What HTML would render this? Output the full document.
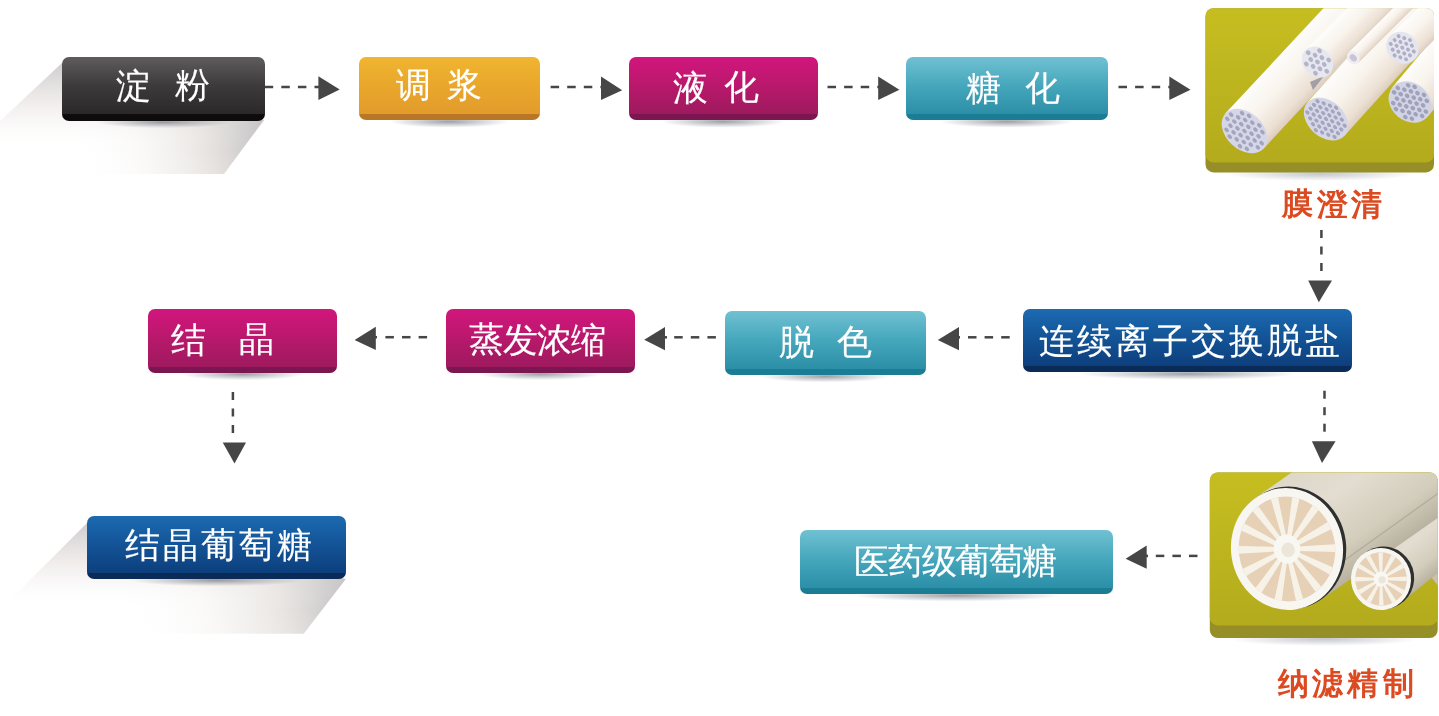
<!DOCTYPE html>
<html><head><meta charset="utf-8">
<style>
html,body{margin:0;padding:0;background:#fff;width:1439px;height:716px;overflow:hidden;position:relative}
.b{position:absolute;border-radius:7px}
.t{position:absolute;will-change:transform;color:#fff;font-family:"Liberation Sans",sans-serif;line-height:1;white-space:nowrap;-webkit-text-stroke:0.15px #fff}
.lbl{position:absolute;will-change:transform;color:#db4a20;font-family:"Liberation Serif",serif;font-weight:bold;line-height:1;white-space:nowrap}
svg{position:absolute;left:0;top:0}
</style></head><body>
<svg width="1439" height="716" viewBox="0 0 1439 716">
<defs>
<linearGradient id="shH1" gradientUnits="userSpaceOnUse" x1="262" y1="125" x2="80" y2="176">
<stop offset="0" stop-color="#b3b2b6" stop-opacity=".9"/>
<stop offset=".3" stop-color="#d6cfcb" stop-opacity=".6"/>
<stop offset=".65" stop-color="#ebe6e3" stop-opacity=".25"/>
<stop offset="1" stop-color="#fff" stop-opacity="0"/>
</linearGradient>
<linearGradient id="shV1" gradientUnits="userSpaceOnUse" x1="0" y1="64" x2="0" y2="150">
<stop offset="0" stop-color="#c2c1c4" stop-opacity=".8"/>
<stop offset=".45" stop-color="#ddd6d2" stop-opacity=".45"/>
<stop offset="1" stop-color="#fff" stop-opacity="0"/>
</linearGradient>
<linearGradient id="shH2" gradientUnits="userSpaceOnUse" x1="344" y1="583" x2="130" y2="640">
<stop offset="0" stop-color="#b3b2b6" stop-opacity=".9"/>
<stop offset=".3" stop-color="#d6cfcb" stop-opacity=".55"/>
<stop offset=".65" stop-color="#ebe6e3" stop-opacity=".22"/>
<stop offset="1" stop-color="#fff" stop-opacity="0"/>
</linearGradient>
<linearGradient id="shV2" gradientUnits="userSpaceOnUse" x1="0" y1="524" x2="0" y2="610">
<stop offset="0" stop-color="#c2c1c4" stop-opacity=".8"/>
<stop offset=".45" stop-color="#ddd6d2" stop-opacity=".45"/>
<stop offset="1" stop-color="#fff" stop-opacity="0"/>
</linearGradient>
<radialGradient id="ush" cx=".5" cy=".5" r=".5">
<stop offset="0" stop-color="#50525c" stop-opacity=".55"/>
<stop offset="1" stop-color="#5a6070" stop-opacity="0"/>
</radialGradient>
</defs>
<polygon points="62,63 264,120 224,174 0,174 0,121" fill="url(#shH1)"/><polygon points="62,63 264,120 224,174 0,174 0,121" fill="url(#shV1)"/>
<polygon points="87,523 345.8,579 303.7,633.7 0,633.7 0,610" fill="url(#shH2)"/><polygon points="87,523 345.8,579 303.7,633.7 0,633.7 0,610" fill="url(#shV2)"/>
<ellipse cx="163.3" cy="122.2" rx="67" ry="6" fill="url(#ush)"/><ellipse cx="449.2" cy="121.7" rx="60" ry="6" fill="url(#ush)"/><ellipse cx="723.1" cy="121.7" rx="62" ry="6" fill="url(#ush)"/><ellipse cx="1006.7" cy="121.7" rx="67" ry="6" fill="url(#ush)"/><ellipse cx="1187.7" cy="373.9" rx="109" ry="6" fill="url(#ush)"/><ellipse cx="825.2" cy="376.4" rx="66" ry="6" fill="url(#ush)"/><ellipse cx="540.4" cy="374.1" rx="62" ry="6" fill="url(#ush)"/><ellipse cx="242.7" cy="374.2" rx="62" ry="6" fill="url(#ush)"/><ellipse cx="216.2" cy="580.3" rx="86" ry="6" fill="url(#ush)"/><ellipse cx="956.6" cy="595.5" rx="104" ry="6" fill="url(#ush)"/>
<rect x="264.7" y="85.75" width="8.5" height="2.5" fill="#464646"/><rect x="281.3" y="85.75" width="8.5" height="2.5" fill="#464646"/><rect x="297.9" y="85.75" width="8.5" height="2.5" fill="#464646"/><rect x="314.5" y="85.75" width="4.9" height="2.5" fill="#464646"/><polygon points="318.4,76.3 339.7,89.5 318.4,100.0" fill="#464646"/><rect x="550.6" y="85.75" width="8.5" height="2.5" fill="#464646"/><rect x="567.2" y="85.75" width="8.5" height="2.5" fill="#464646"/><rect x="583.8" y="85.75" width="8.5" height="2.5" fill="#464646"/><rect x="600.4" y="85.75" width="1.6" height="2.5" fill="#464646"/><polygon points="601.0,76.6 622.2,90.2 601.0,99.9" fill="#464646"/><rect x="827.5" y="85.75" width="8.5" height="2.5" fill="#464646"/><rect x="844.1" y="85.75" width="8.5" height="2.5" fill="#464646"/><rect x="860.7" y="85.75" width="8.5" height="2.5" fill="#464646"/><rect x="877.3" y="85.75" width="1.9" height="2.5" fill="#464646"/><polygon points="878.2,76.6 899.4,89.8 878.2,99.9" fill="#464646"/><rect x="1118.5" y="85.75" width="8.5" height="2.5" fill="#464646"/><rect x="1135.1" y="85.75" width="8.5" height="2.5" fill="#464646"/><rect x="1151.7" y="85.75" width="8.5" height="2.5" fill="#464646"/><rect x="1168.3" y="85.75" width="2.0" height="2.5" fill="#464646"/><polygon points="1169.3,76.6 1190.5,89.8 1169.3,99.9" fill="#464646"/><rect x="1320.15" y="230.0" width="2.5" height="8.0" fill="#464646"/><rect x="1320.15" y="246.5" width="2.5" height="8.0" fill="#464646"/><rect x="1320.15" y="263.0" width="2.5" height="8.0" fill="#464646"/><polygon points="1308.2,280.6 1318.8,302.3 1332.0,280.6" fill="#464646"/><rect x="1323.25" y="390.7" width="2.5" height="8.0" fill="#464646"/><rect x="1323.25" y="407.2" width="2.5" height="8.0" fill="#464646"/><rect x="1323.25" y="423.7" width="2.5" height="8.0" fill="#464646"/><polygon points="1311.9,441.2 1322.0,462.9 1335.6,441.2" fill="#464646"/><rect x="968.0" y="336.05" width="8.5" height="2.5" fill="#464646"/><rect x="984.6" y="336.05" width="8.5" height="2.5" fill="#464646"/><rect x="1001.2" y="336.05" width="8.5" height="2.5" fill="#464646"/><polygon points="959.0,326.9 937.8,340.0 959.0,350.3" fill="#464646"/><rect x="957.0" y="336.05" width="3.0" height="2.5" fill="#464646"/><rect x="674.2" y="336.05" width="8.5" height="2.5" fill="#464646"/><rect x="690.8" y="336.05" width="8.5" height="2.5" fill="#464646"/><rect x="707.4" y="336.05" width="8.5" height="2.5" fill="#464646"/><polygon points="665.0,326.9 644.2,339.7 665.0,350.3" fill="#464646"/><rect x="663.0" y="336.05" width="4.0" height="2.5" fill="#464646"/><rect x="385.4" y="335.95" width="8.5" height="2.5" fill="#464646"/><rect x="402.0" y="335.95" width="8.5" height="2.5" fill="#464646"/><rect x="418.6" y="335.95" width="8.5" height="2.5" fill="#464646"/><polygon points="375.8,326.8 354.6,340.0 375.8,350.0" fill="#464646"/><rect x="374.0" y="335.95" width="3.0" height="2.5" fill="#464646"/><rect x="231.65" y="392.0" width="2.5" height="8.0" fill="#464646"/><rect x="231.65" y="408.5" width="2.5" height="8.0" fill="#464646"/><rect x="231.65" y="425.0" width="2.5" height="8.0" fill="#464646"/><polygon points="222.7,442.6 234.5,463.6 246.0,442.6" fill="#464646"/><rect x="1155.8" y="554.65" width="8.5" height="2.5" fill="#464646"/><rect x="1172.4" y="554.65" width="8.5" height="2.5" fill="#464646"/><rect x="1189.0" y="554.65" width="8.5" height="2.5" fill="#464646"/><polygon points="1146.7,545.4 1125.6,558.7 1146.7,568.7" fill="#464646"/><rect x="1145.0" y="554.65" width="3.0" height="2.5" fill="#464646"/>
</svg>
<div class="b" style="left:62px;top:57.2px;width:202.6px;height:63.5px;background:linear-gradient(#5e5c5d 0%,#3d3a3b 45%,#2b2829 89.1%,#0e0b0c 89.9%,#0e0b0c 100%)"></div>
<div class="b" style="left:359px;top:57px;width:180.5px;height:63.2px;background:linear-gradient(#f0b531 0%,#e9a72b 45%,#e39b2b 89.7%,#b97725 90.5%,#b97725 100%)"></div>
<div class="b" style="left:628.5px;top:57px;width:189.3px;height:63.2px;background:linear-gradient(#d2167d 0%,#b9186c 45%,#9e1a5e 90.0%,#7b1650 90.8%,#7b1650 100%)"></div>
<div class="b" style="left:905.8px;top:57px;width:201.8px;height:63.2px;background:linear-gradient(#70c1d2 0%,#46a7bc 45%,#2b8fa7 90.3%,#1b7d94 91.1%,#1b7d94 100%)"></div>
<div class="b" style="left:1023.3px;top:308.6px;width:328.8px;height:63.8px;background:linear-gradient(#1c6ab1 0%,#135497 45%,#0d3f7d 90.0%,#0a2a58 90.8%,#0a2a58 100%)"></div>
<div class="b" style="left:724.5px;top:311.1px;width:201.5px;height:63.8px;background:linear-gradient(#70c1d2 0%,#46a7bc 45%,#2b8fa7 90.4%,#1b7d94 91.2%,#1b7d94 100%)"></div>
<div class="b" style="left:446px;top:309.1px;width:188.7px;height:63.5px;background:linear-gradient(#d2167d 0%,#b9186c 45%,#9e1a5e 90.2%,#7b1650 91.0%,#7b1650 100%)"></div>
<div class="b" style="left:148.2px;top:309.1px;width:188.9px;height:63.6px;background:linear-gradient(#d2167d 0%,#b9186c 45%,#9e1a5e 90.3%,#7b1650 91.1%,#7b1650 100%)"></div>
<div class="b" style="left:86.7px;top:515.7px;width:259.1px;height:63.1px;background:linear-gradient(#1c6ab1 0%,#135497 45%,#0d3f7d 89.7%,#0a2a58 90.5%,#0a2a58 100%)"></div>
<div class="b" style="left:799.7px;top:529.8px;width:313.7px;height:64.2px;background:linear-gradient(#70c1d2 0%,#46a7bc 45%,#2b8fa7 90.7%,#1b7d94 91.5%,#1b7d94 100%)"></div>
<span class="t" style="left:116.3px;top:67.6px;font-size:35px">淀</span>
<span class="t" style="left:174.7px;top:66.8px;font-size:35px">粉</span>
<span class="t" style="left:396.4px;top:67.1px;font-size:35px">调</span>
<span class="t" style="left:447.0px;top:66.9px;font-size:35px">浆</span>
<span class="t" style="left:672.8px;top:69.8px;font-size:35px">液</span>
<span class="t" style="left:723.5px;top:69.1px;font-size:35px">化</span>
<span class="t" style="left:965.8px;top:70.2px;font-size:35px">糖</span>
<span class="t" style="left:1025.0px;top:69.9px;font-size:35px">化</span>
<span class="t" style="left:778.6px;top:323.6px;font-size:35px">脱</span>
<span class="t" style="left:837.4px;top:324.1px;font-size:35px">色</span>
<span class="t" style="left:171.1px;top:321.6px;font-size:35px">结</span>
<span class="t" style="left:238.6px;top:321.0px;font-size:35px">晶</span>
<span class="t" style="left:1038.7px;top:322.5px;font-size:35px">连</span>
<span class="t" style="left:1076.8px;top:322.5px;font-size:35px">续</span>
<span class="t" style="left:1114.8px;top:322.5px;font-size:35px">离</span>
<span class="t" style="left:1152.8px;top:322.5px;font-size:35px">子</span>
<span class="t" style="left:1190.8px;top:322.5px;font-size:35px">交</span>
<span class="t" style="left:1228.8px;top:322.5px;font-size:35px">换</span>
<span class="t" style="left:1266.5px;top:322.0px;font-size:35px">脱</span>
<span class="t" style="left:1304.8px;top:322.9px;font-size:35px">盐</span>
<span class="t" style="left:468.7px;top:321.4px;font-size:35px">蒸</span>
<span class="t" style="left:502.6px;top:321.8px;font-size:35px">发</span>
<span class="t" style="left:536.6px;top:321.8px;font-size:35px">浓</span>
<span class="t" style="left:571.0px;top:321.9px;font-size:35px">缩</span>
<span class="t" style="left:125.0px;top:527.4px;font-size:35px">结</span>
<span class="t" style="left:163.0px;top:526.9px;font-size:35px">晶</span>
<span class="t" style="left:200.9px;top:527.4px;font-size:35px">葡</span>
<span class="t" style="left:238.9px;top:527.4px;font-size:35px">萄</span>
<span class="t" style="left:277.0px;top:527.4px;font-size:35px">糖</span>
<span class="t" style="left:854.1px;top:543.6px;font-size:35px">医</span>
<span class="t" style="left:888.2px;top:543.1px;font-size:35px">药</span>
<span class="t" style="left:921.6px;top:543.1px;font-size:35px">级</span>
<span class="t" style="left:955.1px;top:543.1px;font-size:35px">葡</span>
<span class="t" style="left:988.5px;top:543.1px;font-size:35px">萄</span>
<span class="t" style="left:1022.0px;top:543.1px;font-size:35px">糖</span>
<span class="lbl" style="left:1282.2px;top:188.3px;font-size:31px">膜</span>
<span class="lbl" style="left:1316.5px;top:188.6px;font-size:31px">澄</span>
<span class="lbl" style="left:1350.9px;top:188.6px;font-size:31px">清</span>
<span class="lbl" style="left:1277.8px;top:667.9px;font-size:31px">纳</span>
<span class="lbl" style="left:1312.1px;top:668.4px;font-size:31px">滤</span>
<span class="lbl" style="left:1347.1px;top:668.4px;font-size:31px">精</span>
<span class="lbl" style="left:1382.8px;top:668.1px;font-size:31px">制</span>
<svg width="1439" height="716" viewBox="0 0 1439 716" style="position:absolute;left:0;top:0">
<defs>
<clipPath id="c1"><rect x="1205.5" y="8.2" width="228.5" height="164.2" rx="8"/></clipPath>
<clipPath id="c1t"><rect x="1205.5" y="8.2" width="228.5" height="154.2" rx="8"/></clipPath>
<linearGradient id="ol1" x1="0" y1="0" x2="0" y2="1"><stop offset="0" stop-color="#c6be20"/><stop offset="1" stop-color="#b4ab1d"/></linearGradient>
<linearGradient id="cb" x1="0" y1="0" x2="0" y2="1"><stop offset="0" stop-color="#fefdfb"/><stop offset=".45" stop-color="#f8f3ec"/><stop offset=".85" stop-color="#ebdfd2"/><stop offset="1" stop-color="#dccdbf"/></linearGradient>
<radialGradient id="ush2" cx=".5" cy=".5" r=".5"><stop offset="0" stop-color="#5a6070" stop-opacity=".35"/><stop offset="1" stop-color="#5a6070" stop-opacity="0"/></radialGradient>
<clipPath id="c2"><rect x="1209.8" y="472.4" width="227.9" height="165.6" rx="8"/></clipPath>
<clipPath id="c2t"><rect x="1209.8" y="472.4" width="227.9" height="153" rx="8"/></clipPath>
<linearGradient id="sb" x1="0" y1="0" x2="0" y2="1"><stop offset="0" stop-color="#ddd8ca"/><stop offset=".35" stop-color="#e2ddd0"/><stop offset=".75" stop-color="#d3cdbc"/><stop offset="1" stop-color="#b9b2a0"/></linearGradient>
</defs>
<ellipse cx="1320" cy="174" rx="95" ry="7" fill="url(#ush2)"/>
<ellipse cx="1324" cy="639" rx="95" ry="7" fill="url(#ush2)"/>
<g clip-path="url(#c1)">
<rect x="1205" y="8" width="230" height="165" fill="#968f27"/>
</g>
<g clip-path="url(#c1t)">
<rect x="1205" y="8" width="230" height="155" fill="url(#ol1)"/>

<g transform="translate(1244.5,131) rotate(-47)"><rect x="0" y="-26" width="300" height="52" fill="url(#cb)"/><ellipse cx="0" cy="0" rx="18.5" ry="26" fill="#d5d6e6"/><g fill="#a3a4bf"><ellipse cx="-2.8" cy="-20.9" rx="1.85" ry="2.6"/><ellipse cx="2.8" cy="-20.9" rx="1.85" ry="2.6"/><ellipse cx="-11.4" cy="-13.9" rx="1.85" ry="2.6"/><ellipse cx="-5.7" cy="-13.9" rx="1.85" ry="2.6"/><ellipse cx="0.0" cy="-13.9" rx="1.85" ry="2.6"/><ellipse cx="5.7" cy="-13.9" rx="1.85" ry="2.6"/><ellipse cx="11.4" cy="-13.9" rx="1.85" ry="2.6"/><ellipse cx="-14.2" cy="-7.0" rx="1.85" ry="2.6"/><ellipse cx="-8.5" cy="-7.0" rx="1.85" ry="2.6"/><ellipse cx="-2.8" cy="-7.0" rx="1.85" ry="2.6"/><ellipse cx="2.8" cy="-7.0" rx="1.85" ry="2.6"/><ellipse cx="8.5" cy="-7.0" rx="1.85" ry="2.6"/><ellipse cx="14.2" cy="-7.0" rx="1.85" ry="2.6"/><ellipse cx="-11.4" cy="0.0" rx="1.85" ry="2.6"/><ellipse cx="-5.7" cy="0.0" rx="1.85" ry="2.6"/><ellipse cx="0.0" cy="0.0" rx="1.85" ry="2.6"/><ellipse cx="5.7" cy="0.0" rx="1.85" ry="2.6"/><ellipse cx="11.4" cy="0.0" rx="1.85" ry="2.6"/><ellipse cx="-14.2" cy="7.0" rx="1.85" ry="2.6"/><ellipse cx="-8.5" cy="7.0" rx="1.85" ry="2.6"/><ellipse cx="-2.8" cy="7.0" rx="1.85" ry="2.6"/><ellipse cx="2.8" cy="7.0" rx="1.85" ry="2.6"/><ellipse cx="8.5" cy="7.0" rx="1.85" ry="2.6"/><ellipse cx="14.2" cy="7.0" rx="1.85" ry="2.6"/><ellipse cx="-11.4" cy="13.9" rx="1.85" ry="2.6"/><ellipse cx="-5.7" cy="13.9" rx="1.85" ry="2.6"/><ellipse cx="0.0" cy="13.9" rx="1.85" ry="2.6"/><ellipse cx="5.7" cy="13.9" rx="1.85" ry="2.6"/><ellipse cx="11.4" cy="13.9" rx="1.85" ry="2.6"/><ellipse cx="-2.8" cy="20.9" rx="1.85" ry="2.6"/><ellipse cx="2.8" cy="20.9" rx="1.85" ry="2.6"/></g></g>
<polygon points="1310,82 1324,76 1313,90" fill="#8c8a98" opacity=".75"/>
<g transform="translate(1326,119) rotate(-48)"><rect x="0" y="-25" width="300" height="50" fill="url(#cb)"/><ellipse cx="0" cy="0" rx="18" ry="25" fill="#d6d7e6"/><g fill="#a3a4bf"><ellipse cx="-7.6" cy="-18.3" rx="1.73" ry="2.4"/><ellipse cx="-2.5" cy="-18.3" rx="1.73" ry="2.4"/><ellipse cx="2.5" cy="-18.3" rx="1.73" ry="2.4"/><ellipse cx="7.6" cy="-18.3" rx="1.73" ry="2.4"/><ellipse cx="-10.1" cy="-12.2" rx="1.73" ry="2.4"/><ellipse cx="-5.0" cy="-12.2" rx="1.73" ry="2.4"/><ellipse cx="0.0" cy="-12.2" rx="1.73" ry="2.4"/><ellipse cx="5.0" cy="-12.2" rx="1.73" ry="2.4"/><ellipse cx="10.1" cy="-12.2" rx="1.73" ry="2.4"/><ellipse cx="-12.6" cy="-6.1" rx="1.73" ry="2.4"/><ellipse cx="-7.6" cy="-6.1" rx="1.73" ry="2.4"/><ellipse cx="-2.5" cy="-6.1" rx="1.73" ry="2.4"/><ellipse cx="2.5" cy="-6.1" rx="1.73" ry="2.4"/><ellipse cx="7.6" cy="-6.1" rx="1.73" ry="2.4"/><ellipse cx="12.6" cy="-6.1" rx="1.73" ry="2.4"/><ellipse cx="-15.1" cy="0.0" rx="1.73" ry="2.4"/><ellipse cx="-10.1" cy="0.0" rx="1.73" ry="2.4"/><ellipse cx="-5.0" cy="0.0" rx="1.73" ry="2.4"/><ellipse cx="0.0" cy="0.0" rx="1.73" ry="2.4"/><ellipse cx="5.0" cy="0.0" rx="1.73" ry="2.4"/><ellipse cx="10.1" cy="0.0" rx="1.73" ry="2.4"/><ellipse cx="15.1" cy="0.0" rx="1.73" ry="2.4"/><ellipse cx="-12.6" cy="6.1" rx="1.73" ry="2.4"/><ellipse cx="-7.6" cy="6.1" rx="1.73" ry="2.4"/><ellipse cx="-2.5" cy="6.1" rx="1.73" ry="2.4"/><ellipse cx="2.5" cy="6.1" rx="1.73" ry="2.4"/><ellipse cx="7.6" cy="6.1" rx="1.73" ry="2.4"/><ellipse cx="12.6" cy="6.1" rx="1.73" ry="2.4"/><ellipse cx="-10.1" cy="12.2" rx="1.73" ry="2.4"/><ellipse cx="-5.0" cy="12.2" rx="1.73" ry="2.4"/><ellipse cx="0.0" cy="12.2" rx="1.73" ry="2.4"/><ellipse cx="5.0" cy="12.2" rx="1.73" ry="2.4"/><ellipse cx="10.1" cy="12.2" rx="1.73" ry="2.4"/><ellipse cx="-7.6" cy="18.3" rx="1.73" ry="2.4"/><ellipse cx="-2.5" cy="18.3" rx="1.73" ry="2.4"/><ellipse cx="2.5" cy="18.3" rx="1.73" ry="2.4"/><ellipse cx="7.6" cy="18.3" rx="1.73" ry="2.4"/></g></g>
<g transform="translate(1317.5,62) rotate(-45)"><rect x="0" y="-17" width="300" height="34" fill="url(#cb)"/><ellipse cx="0" cy="0" rx="14" ry="17" fill="#e6e7ef"/><g fill="#b3b4c8"><ellipse cx="0.0" cy="-13.1" rx="2.14" ry="2.6"/><ellipse cx="-9.3" cy="-6.5" rx="2.14" ry="2.6"/><ellipse cx="-3.1" cy="-6.5" rx="2.14" ry="2.6"/><ellipse cx="3.1" cy="-6.5" rx="2.14" ry="2.6"/><ellipse cx="9.3" cy="-6.5" rx="2.14" ry="2.6"/><ellipse cx="-6.2" cy="0.0" rx="2.14" ry="2.6"/><ellipse cx="0.0" cy="0.0" rx="2.14" ry="2.6"/><ellipse cx="6.2" cy="0.0" rx="2.14" ry="2.6"/><ellipse cx="-9.3" cy="6.5" rx="2.14" ry="2.6"/><ellipse cx="-3.1" cy="6.5" rx="2.14" ry="2.6"/><ellipse cx="3.1" cy="6.5" rx="2.14" ry="2.6"/><ellipse cx="9.3" cy="6.5" rx="2.14" ry="2.6"/><ellipse cx="0.0" cy="13.1" rx="2.14" ry="2.6"/></g></g>
<g transform="translate(1353.3,57.8) rotate(-45)"><rect x="0" y="-7" width="300" height="14" fill="url(#cb)"/><ellipse cx="0" cy="0" rx="6" ry="7" fill="#efedf0"/></g>
<ellipse cx="1353.3" cy="57.8" rx="3" ry="4" fill="#c9c5d6" transform="rotate(-45 1353.3 57.8)"/>
<g transform="translate(1410,102) rotate(-50)"><rect x="0" y="-23" width="300" height="46" fill="url(#cb)"/><ellipse cx="0" cy="0" rx="19" ry="23" fill="#d2d4e4"/><g fill="#a0a1bc"><ellipse cx="-2.9" cy="-18.3" rx="2.07" ry="2.5"/><ellipse cx="2.9" cy="-18.3" rx="2.07" ry="2.5"/><ellipse cx="-11.6" cy="-12.2" rx="2.07" ry="2.5"/><ellipse cx="-5.8" cy="-12.2" rx="2.07" ry="2.5"/><ellipse cx="0.0" cy="-12.2" rx="2.07" ry="2.5"/><ellipse cx="5.8" cy="-12.2" rx="2.07" ry="2.5"/><ellipse cx="11.6" cy="-12.2" rx="2.07" ry="2.5"/><ellipse cx="-14.5" cy="-6.1" rx="2.07" ry="2.5"/><ellipse cx="-8.7" cy="-6.1" rx="2.07" ry="2.5"/><ellipse cx="-2.9" cy="-6.1" rx="2.07" ry="2.5"/><ellipse cx="2.9" cy="-6.1" rx="2.07" ry="2.5"/><ellipse cx="8.7" cy="-6.1" rx="2.07" ry="2.5"/><ellipse cx="14.5" cy="-6.1" rx="2.07" ry="2.5"/><ellipse cx="-11.6" cy="0.0" rx="2.07" ry="2.5"/><ellipse cx="-5.8" cy="0.0" rx="2.07" ry="2.5"/><ellipse cx="0.0" cy="0.0" rx="2.07" ry="2.5"/><ellipse cx="5.8" cy="0.0" rx="2.07" ry="2.5"/><ellipse cx="11.6" cy="0.0" rx="2.07" ry="2.5"/><ellipse cx="-14.5" cy="6.1" rx="2.07" ry="2.5"/><ellipse cx="-8.7" cy="6.1" rx="2.07" ry="2.5"/><ellipse cx="-2.9" cy="6.1" rx="2.07" ry="2.5"/><ellipse cx="2.9" cy="6.1" rx="2.07" ry="2.5"/><ellipse cx="8.7" cy="6.1" rx="2.07" ry="2.5"/><ellipse cx="14.5" cy="6.1" rx="2.07" ry="2.5"/><ellipse cx="-11.6" cy="12.2" rx="2.07" ry="2.5"/><ellipse cx="-5.8" cy="12.2" rx="2.07" ry="2.5"/><ellipse cx="0.0" cy="12.2" rx="2.07" ry="2.5"/><ellipse cx="5.8" cy="12.2" rx="2.07" ry="2.5"/><ellipse cx="11.6" cy="12.2" rx="2.07" ry="2.5"/><ellipse cx="-2.9" cy="18.3" rx="2.07" ry="2.5"/><ellipse cx="2.9" cy="18.3" rx="2.07" ry="2.5"/></g></g>
<g transform="translate(1402.3,47.7) rotate(-45)"><rect x="0" y="-17" width="300" height="34" fill="url(#cb)"/><ellipse cx="0" cy="0" rx="15" ry="17" fill="#e4e5ee"/><g fill="#aeafc6"><ellipse cx="-5.5" cy="-10.8" rx="1.85" ry="2.1"/><ellipse cx="0.0" cy="-10.8" rx="1.85" ry="2.1"/><ellipse cx="5.5" cy="-10.8" rx="1.85" ry="2.1"/><ellipse cx="-8.2" cy="-5.4" rx="1.85" ry="2.1"/><ellipse cx="-2.7" cy="-5.4" rx="1.85" ry="2.1"/><ellipse cx="2.7" cy="-5.4" rx="1.85" ry="2.1"/><ellipse cx="8.2" cy="-5.4" rx="1.85" ry="2.1"/><ellipse cx="-10.9" cy="0.0" rx="1.85" ry="2.1"/><ellipse cx="-5.5" cy="0.0" rx="1.85" ry="2.1"/><ellipse cx="0.0" cy="0.0" rx="1.85" ry="2.1"/><ellipse cx="5.5" cy="0.0" rx="1.85" ry="2.1"/><ellipse cx="10.9" cy="0.0" rx="1.85" ry="2.1"/><ellipse cx="-8.2" cy="5.4" rx="1.85" ry="2.1"/><ellipse cx="-2.7" cy="5.4" rx="1.85" ry="2.1"/><ellipse cx="2.7" cy="5.4" rx="1.85" ry="2.1"/><ellipse cx="8.2" cy="5.4" rx="1.85" ry="2.1"/><ellipse cx="-5.5" cy="10.8" rx="1.85" ry="2.1"/><ellipse cx="0.0" cy="10.8" rx="1.85" ry="2.1"/><ellipse cx="5.5" cy="10.8" rx="1.85" ry="2.1"/></g></g>
</g>
<g clip-path="url(#c2)">
<rect x="1209" y="472" width="230" height="167" fill="#968f27"/>
</g>
<g clip-path="url(#c2t)">
<rect x="1209" y="472" width="230" height="154" fill="url(#ol1)"/>

<g transform="translate(1440,572) rotate(-38)"><rect x="-10" y="-16" width="200" height="32" fill="#c9c2b0"/></g>
<g transform="translate(1381,579) rotate(-39)"><rect x="0" y="-31" width="300" height="62" fill="url(#sb)"/></g>
<g transform="translate(1287,549) rotate(-35)"><rect x="8" y="-60" width="300" height="121" fill="url(#sb)"/></g>
<line x1="1345" y1="560" x2="1440" y2="492" stroke="#a8a090" stroke-width="1.2" opacity=".7"/>
<g transform="translate(1287,549) rotate(-8)"><ellipse cx="2.8" cy="-0.8" rx="56.5" ry="61.3" fill="#2f2f2f"/><ellipse cx="0" cy="0" rx="56" ry="61" fill="#f8f6f0"/><ellipse cx="0" cy="0" rx="48.2" ry="52.5" fill="#e6d0b6"/><polygon points="11.2,-0.9 48.1,1.9 47.3,9.8 10.7,3.6" fill="#f6f2e8"/><polygon points="10.4,4.4 42.6,24.4 38.7,31.2 8.2,8.3" fill="#f6f2e8"/><polygon points="7.6,8.9 28.7,42.2 22.4,46.4 4.1,11.4" fill="#f6f2e8"/><polygon points="3.3,11.7 9.0,51.5 1.7,52.4 -0.9,12.2" fill="#f6f2e8"/><polygon points="-1.7,12.1 -12.4,50.7 -19.3,48.1 -5.6,10.6" fill="#f6f2e8"/><polygon points="-6.3,10.1 -31.4,39.8 -36.6,34.2 -9.3,6.9" fill="#f6f2e8"/><polygon points="-9.7,6.1 -44.1,21.1 -46.5,13.5 -11.1,1.8" fill="#f6f2e8"/><polygon points="-11.2,0.9 -48.1,-1.9 -47.3,-9.8 -10.7,-3.6" fill="#f6f2e8"/><polygon points="-10.4,-4.4 -42.6,-24.4 -38.7,-31.2 -8.2,-8.3" fill="#f6f2e8"/><polygon points="-7.6,-8.9 -28.7,-42.2 -22.4,-46.4 -4.1,-11.4" fill="#f6f2e8"/><polygon points="-3.3,-11.7 -9.0,-51.5 -1.7,-52.4 0.9,-12.2" fill="#f6f2e8"/><polygon points="1.7,-12.1 12.4,-50.7 19.3,-48.1 5.6,-10.6" fill="#f6f2e8"/><polygon points="6.3,-10.1 31.4,-39.8 36.6,-34.2 9.3,-6.9" fill="#f6f2e8"/><polygon points="9.7,-6.1 44.1,-21.1 46.5,-13.5 11.1,-1.8" fill="#f6f2e8"/><ellipse cx="0" cy="0" rx="13.4" ry="14.6" fill="#f9f7f2"/><ellipse cx="1" cy="1" rx="6.7" ry="7.3" fill="#ece6da"/></g>
<g transform="translate(1381,579) rotate(-8)"><ellipse cx="2.8" cy="-0.8" rx="30.5" ry="31.3" fill="#2f2f2f"/><ellipse cx="0" cy="0" rx="30" ry="31" fill="#f8f6f0"/><ellipse cx="0" cy="0" rx="25.8" ry="26.7" fill="#e6d0b6"/><polygon points="6.0,-0.6 25.8,1.1 25.2,5.8 5.6,2.1" fill="#f6f2e8"/><polygon points="5.4,2.6 21.8,14.3 19.0,18.0 3.8,4.8" fill="#f6f2e8"/><polygon points="3.5,5.1 12.0,23.6 7.7,25.4 1.0,6.1" fill="#f6f2e8"/><polygon points="0.5,6.2 -1.1,26.6 -5.6,26.0 -2.1,5.8" fill="#f6f2e8"/><polygon points="-2.5,5.6 -13.8,22.5 -17.5,19.6 -4.6,4.0" fill="#f6f2e8"/><polygon points="-4.9,3.6 -22.9,12.4 -24.6,8.0 -5.9,1.1" fill="#f6f2e8"/><polygon points="-6.0,0.6 -25.8,-1.1 -25.2,-5.8 -5.6,-2.1" fill="#f6f2e8"/><polygon points="-5.4,-2.6 -21.8,-14.3 -19.0,-18.0 -3.8,-4.8" fill="#f6f2e8"/><polygon points="-3.5,-5.1 -12.0,-23.6 -7.7,-25.4 -1.0,-6.1" fill="#f6f2e8"/><polygon points="-0.5,-6.2 1.1,-26.6 5.6,-26.0 2.1,-5.8" fill="#f6f2e8"/><polygon points="2.5,-5.6 13.8,-22.5 17.5,-19.6 4.6,-4.0" fill="#f6f2e8"/><polygon points="4.9,-3.6 22.9,-12.4 24.6,-8.0 5.9,-1.1" fill="#f6f2e8"/><ellipse cx="0" cy="0" rx="7.2" ry="7.4" fill="#f9f7f2"/><ellipse cx="1" cy="1" rx="3.6" ry="3.7" fill="#ece6da"/></g>
</g></svg>
</body></html>
